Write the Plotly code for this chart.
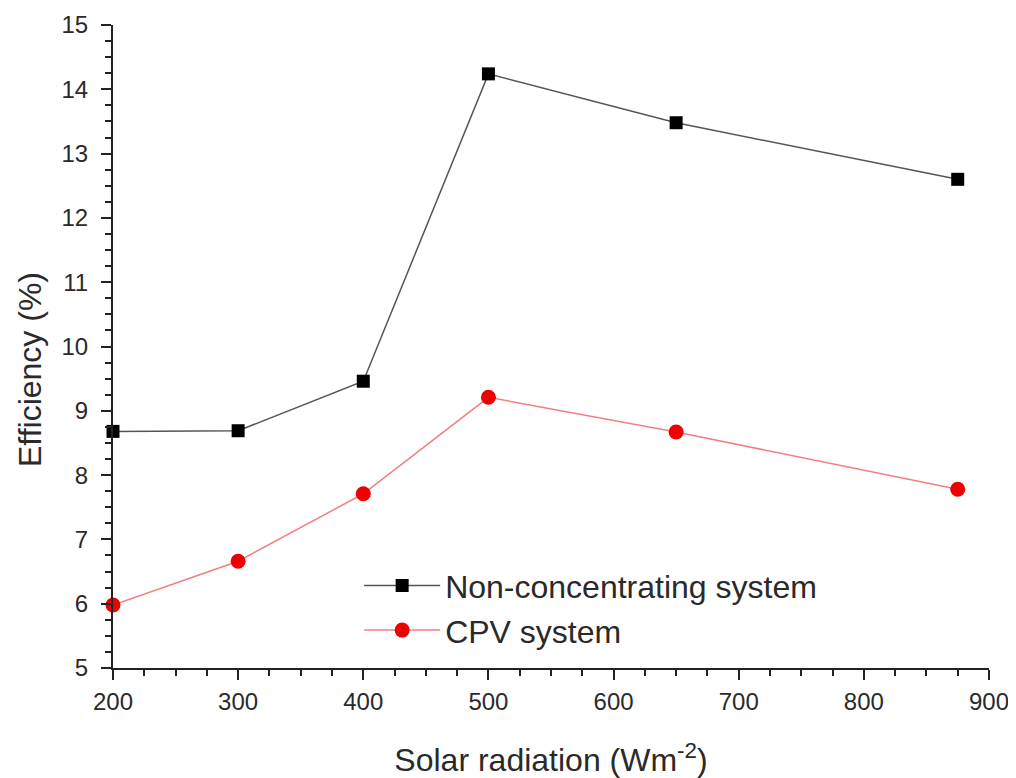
import plotly.graph_objects as go

radiation = [200, 300, 400, 500, 650, 875]
non_conc = [8.68, 8.69, 9.46, 14.24, 13.48, 12.60]
cpv = [5.98, 6.66, 7.71, 9.21, 8.67, 7.78]

x_ticks = [200, 300, 400, 500, 600, 700, 800, 900]
y_ticks = [5, 6, 7, 8, 9, 10, 11, 12, 13, 14, 15]

font = "Liberation Sans, Arial, sans-serif"
txt = "#2a2a2a"

fig = go.Figure()
fig.add_trace(go.Scatter(
    x=radiation, y=non_conc, mode="lines+markers", name="Non-concentrating system",
    line=dict(color="#555555", width=1.5),
    marker=dict(symbol="square", size=13, color="black"),
    cliponaxis=False,
))
fig.add_trace(go.Scatter(
    x=radiation, y=cpv, mode="lines+markers", name="CPV system",
    line=dict(color="#f08080", width=1.5),
    marker=dict(symbol="circle", size=15, color="#ee0000"),
    cliponaxis=False,
))

axis_common = dict(
    showline=True, linecolor="#222222", linewidth=2,
    ticks="outside", ticklen=10, tickwidth=2, tickcolor="#222222",
    showgrid=False, zeroline=False, mirror=False, automargin=False,
    ticklabeloverflow="allow",
    tickfont=dict(family=font, size=24, color=txt),
)

fig.update_layout(
    width=1000, height=770,
    paper_bgcolor="white", plot_bgcolor="white",
    margin=dict(l=105, r=19, t=17, b=110),
    xaxis=dict(
        range=[200, 900], tickvals=x_ticks, ticklabelstandoff=1,
        minor=dict(dtick=25, tick0=200, ticks="outside", ticklen=6, tickwidth=2, tickcolor="#222222"),
        title=dict(text="Solar radiation (Wm<sup>-2</sup>)", font=dict(family=font, size=32, color=txt), standoff=44),
        **axis_common,
    ),
    yaxis=dict(
        range=[5, 15], tickvals=y_ticks, ticklabelstandoff=8,
        minor=dict(dtick=0.25, tick0=5, ticks="outside", ticklen=6, tickwidth=2, tickcolor="#222222"),
        **axis_common,
    ),
    legend=dict(
        x=0.281, y=0.093, xanchor="left", yanchor="middle",
        bgcolor="rgba(0,0,0,0)", font=dict(family=font, size=32, color=txt),
        itemwidth=76, tracegroupgap=0,
    ),
    showlegend=True,
    annotations=[dict(
        text="Efficiency (%)", textangle=-90, showarrow=False,
        xref="paper", yref="paper", x=-0.0947, y=0.4635,
        xanchor="center", yanchor="middle",
        font=dict(family=font, size=32, color=txt),
    )],
)

fig.write_html("out.html")
